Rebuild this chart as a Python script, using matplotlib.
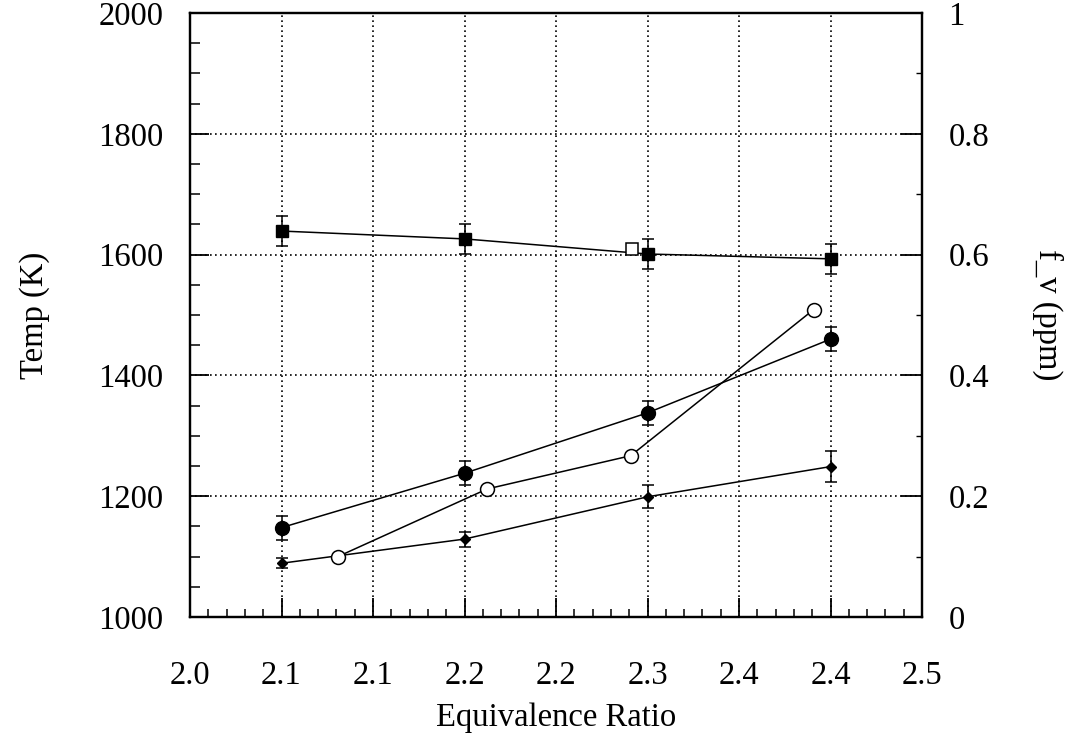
import matplotlib
matplotlib.use("Agg")
import matplotlib.pyplot as plt
from matplotlib.ticker import FixedLocator, MultipleLocator, FuncFormatter

plt.rcParams["font.family"] = ["Liberation Serif", "DejaVu Serif"]

# data
x_meas = [2.0625, 2.1875, 2.3125, 2.4375]
temp_k = [1639, 1626, 1601, 1593]
temp_err = [25, 25, 25, 25]
fv_circle = [0.148, 0.238, 0.338, 0.460]
fv_circle_err = [0.02, 0.02, 0.02, 0.02]
fv_diamond = [0.089, 0.129, 0.199, 0.249]
fv_diamond_err = [0.008, 0.0125, 0.019, 0.026]
x_open = [2.101, 2.203, 2.301, 2.426]
fv_open = [0.100, 0.212, 0.267, 0.509]
x_open_sq = [2.302]
temp_open_sq = [1610]

x_ticks = [2.0, 2.0625, 2.125, 2.1875, 2.25, 2.3125, 2.375, 2.4375, 2.5]

FS = 23.5

fig = plt.figure(figsize=(10.71, 7.42), dpi=100)
ax = fig.add_axes([190 / 1071, 1 - 617 / 742, 732 / 1071, 604 / 742])
ax2 = ax.twinx()

ax.set_xlim(2.0, 2.5)
ax.set_ylim(1000, 2000)
ax2.set_ylim(0, 1)

# temperature (left axis)
ax.errorbar(x_meas, temp_k, yerr=temp_err, color="black", marker="s", markersize=9,
            linewidth=1.1, elinewidth=1.1, capsize=4.5, capthick=1.1, zorder=3)
ax.plot(x_open_sq, temp_open_sq, linestyle="none", marker="s", markersize=8.5,
        markerfacecolor="white", markeredgecolor="black", markeredgewidth=1.1, zorder=4)

# soot volume fraction (right axis)
ax2.errorbar(x_meas, fv_circle, yerr=fv_circle_err, color="black", marker="o", markersize=10,
             linewidth=1.1, elinewidth=1.1, capsize=4.5, capthick=1.1, zorder=3)
ax2.errorbar(x_meas, fv_diamond, yerr=fv_diamond_err, color="black", marker="D", markersize=5.5,
             linewidth=1.1, elinewidth=1.1, capsize=4.5, capthick=1.1, zorder=3)
ax2.plot(x_open, fv_open, color="black", marker="o", markersize=10, linewidth=1.1,
         markerfacecolor="white", markeredgecolor="black", markeredgewidth=1.1, zorder=4)

# ticks
ax.xaxis.set_major_locator(FixedLocator(x_ticks))
ax.xaxis.set_minor_locator(MultipleLocator(0.0125))
ax.xaxis.set_major_formatter(FuncFormatter(lambda v, p: f"{v:.1f}"))
ax.yaxis.set_major_locator(MultipleLocator(200))
ax.yaxis.set_minor_locator(MultipleLocator(50))
ax2.yaxis.set_major_locator(MultipleLocator(0.2))
ax2.yaxis.set_minor_locator(MultipleLocator(0.1))
ax2.yaxis.set_major_formatter(FuncFormatter(lambda v, p: f"{v:g}"))

ax.tick_params(axis="x", which="major", direction="in", length=14, width=1.3, pad=31,
               labelsize=FS, top=False)
ax.tick_params(axis="x", which="minor", direction="in", length=6, width=1.1, top=False)
ax.tick_params(axis="y", which="major", direction="in", length=14, width=1.3, pad=19,
               labelsize=FS, right=False)
ax.tick_params(axis="y", which="minor", direction="in", length=7, width=1.1, right=False)
ax2.tick_params(axis="y", which="major", direction="in", length=15, width=1.3, pad=19,
                labelsize=FS)
ax2.tick_params(axis="y", which="minor", direction="in", length=4, width=1.0)

# dotted grid at the major ticks
ax.grid(True, which="major", color="black", linestyle=(0, (1, 2)), linewidth=1.2)
ax.set_axisbelow(True)

for sp in ax.spines.values():
    sp.set_linewidth(1.6)
for sp in ax2.spines.values():
    sp.set_linewidth(1.6)

ax.set_xlabel("Equivalence Ratio", fontsize=FS, va="center")
ax.xaxis.set_label_coords(0.5, -0.166)
ax.set_ylabel("Temp (K)", fontsize=FS, va="center")
ax.yaxis.set_label_coords(-0.212, 0.5)
ax2.set_ylabel("f_v (ppm)", fontsize=FS, rotation=-90, va="center")
ax2.yaxis.set_label_coords(1.171, 0.5)

fig.savefig("out.png", dpi=100)
